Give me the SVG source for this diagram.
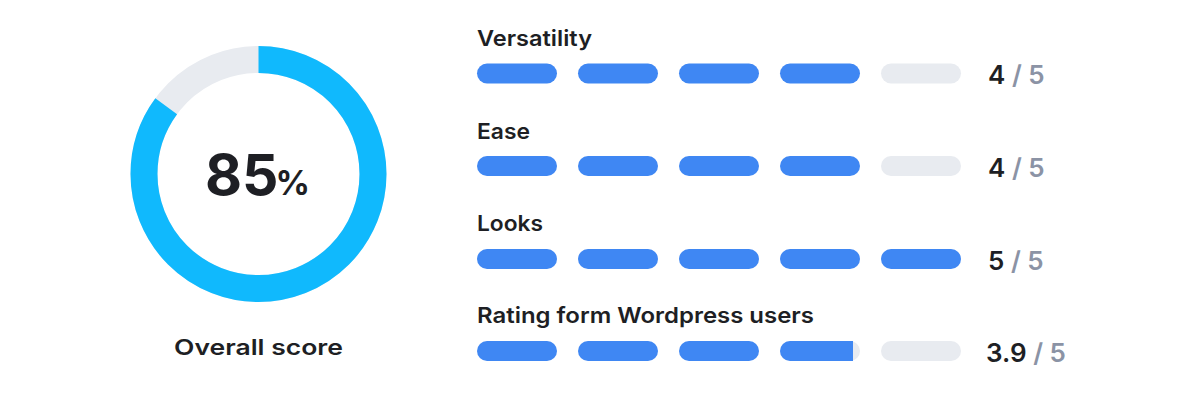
<svg xmlns="http://www.w3.org/2000/svg" width="1200" height="403" viewBox="0 0 1200 403">
<style>
.lbl{font-family:Inter,"Liberation Sans",sans-serif;font-weight:600;font-size:22px;fill:#1e1f24}
.sc{font-family:Inter,"Liberation Sans",sans-serif;font-weight:600;font-size:26px;fill:#1e1f24}
.of{fill:#8b93a5}
.on{fill:#3f87f3}
.off{fill:#e8ebf0}
</style>
<rect width="1200" height="403" fill="#ffffff"/>
<g id="donut">
<circle cx="258.5" cy="174" r="114.5" fill="none" stroke="#e8ebf0" stroke-width="27"/>
<circle cx="258.5" cy="174" r="114.5" fill="none" stroke="#10b9fd" stroke-width="27" stroke-dasharray="611.5 800" transform="rotate(-90 258.5 174)"/>
<text x="205" y="195" font-family="Inter,'Liberation Sans',sans-serif" font-weight="700" fill="#1e1f24" font-size="57">85<tspan dx="-3" font-size="34">%</tspan></text>
<text x="174" y="355" class="lbl" font-size="24" textLength="169" lengthAdjust="spacingAndGlyphs">Overall score</text>
</g>
<g id="versatility">
<text x="477" y="46" class="lbl" textLength="115" lengthAdjust="spacingAndGlyphs">Versatility</text>
<rect x="477" y="63.5" width="80" height="20" rx="10" class="on"/>
<rect x="578" y="63.5" width="80" height="20" rx="10" class="on"/>
<rect x="679" y="63.5" width="80" height="20" rx="10" class="on"/>
<rect x="780" y="63.5" width="80" height="20" rx="10" class="on"/>
<rect x="881" y="63.5" width="80" height="20" rx="10" class="off"/>
<text x="988" y="84" class="sc">4<tspan class="of"> / 5</tspan></text>
</g>
<g id="ease">
<text x="477" y="139" class="lbl" textLength="53" lengthAdjust="spacingAndGlyphs">Ease</text>
<rect x="477" y="156" width="80" height="20" rx="10" class="on"/>
<rect x="578" y="156" width="80" height="20" rx="10" class="on"/>
<rect x="679" y="156" width="80" height="20" rx="10" class="on"/>
<rect x="780" y="156" width="80" height="20" rx="10" class="on"/>
<rect x="881" y="156" width="80" height="20" rx="10" class="off"/>
<text x="988" y="176.5" class="sc">4<tspan class="of"> / 5</tspan></text>
</g>
<g id="looks">
<text x="477" y="231" class="lbl" textLength="66" lengthAdjust="spacingAndGlyphs">Looks</text>
<rect x="477" y="249" width="80" height="20" rx="10" class="on"/>
<rect x="578" y="249" width="80" height="20" rx="10" class="on"/>
<rect x="679" y="249" width="80" height="20" rx="10" class="on"/>
<rect x="780" y="249" width="80" height="20" rx="10" class="on"/>
<rect x="881" y="249" width="80" height="20" rx="10" class="on"/>
<text x="988" y="269.5" class="sc">5<tspan class="of"> / 5</tspan></text>
</g>
<g id="wordpress">
<text x="477" y="323" class="lbl" textLength="337" lengthAdjust="spacingAndGlyphs">Rating form Wordpress users</text>
<rect x="477" y="341" width="80" height="20" rx="10" class="on"/>
<rect x="578" y="341" width="80" height="20" rx="10" class="on"/>
<rect x="679" y="341" width="80" height="20" rx="10" class="on"/>
<rect x="780" y="341" width="80" height="20" rx="10" class="off"/>
<path d="M790 341 H853 V361 H790 A10 10 0 0 1 790 341 Z" class="on"/>
<rect x="881" y="341" width="80" height="20" rx="10" class="off"/>
<text x="986" y="361.5" class="sc">3.9<tspan class="of"> / 5</tspan></text>
</g>
</svg>
